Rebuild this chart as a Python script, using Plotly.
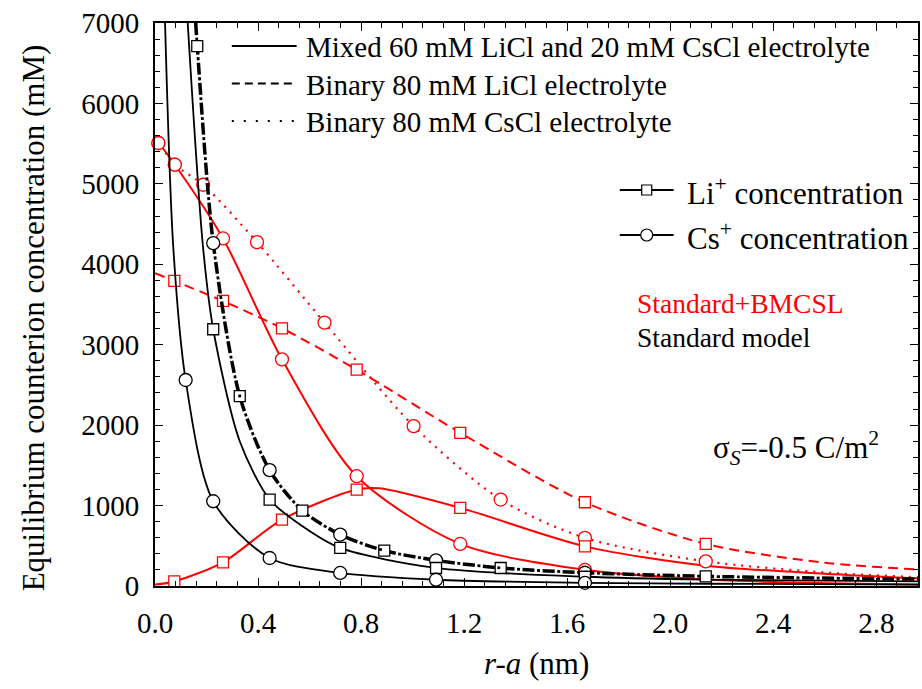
import plotly.graph_objects as go

# ---------------- data ----------------
# Standard model (black): mixed 60 mM LiCl + 20 mM CsCl
std_mix_li_x = [0.127, 0.186, 0.226, 0.329, 0.445, 0.574, 0.719, 1.091, 1.669, 2.138, 2.962]
std_mix_li_y = [7000, 4229, 3192, 1800, 1075, 740, 473, 224, 115, 80, 58]
std_mix_li_mk = [0.226, 0.445, 0.719, 1.091, 1.669]

std_mix_cs_x = [0.039, 0.071, 0.119, 0.226, 0.445, 0.719, 1.091, 1.669, 2.138, 2.962]
std_mix_cs_y = [7000, 4209, 2561, 1054, 348, 162, 78, 40, 28, 18]
std_mix_cs_mk = [0.119, 0.226, 0.445, 0.719, 1.091, 1.669]

# Standard model: binary 80 mM LiCl and binary 80 mM CsCl coincide
std_bin_x = [0.158, 0.164, 0.226, 0.329, 0.445, 0.572, 0.719, 0.890, 1.091, 1.342, 1.669, 2.138, 2.962]
std_bin_y = [7000, 6712, 4263, 2361, 1440, 938, 639, 440, 319, 224, 165, 120, 85]
std_bin_li_mk = [0.164, 0.329, 0.572, 0.890, 1.342, 2.138]
std_bin_cs_mk = [0.226, 0.445, 0.719, 1.091, 1.669]

# Standard + BMCSL (red)
bm_mix_li_x = [0.0, 0.075, 0.264, 0.493, 0.783, 0.87, 1.185, 1.669, 2.138, 2.6, 2.962]
bm_mix_li_y = [18, 57, 294, 826, 1199, 1214, 971, 493, 252, 153, 95]
bm_mix_li_mk = [0.075, 0.264, 0.493, 0.783, 1.185, 1.669]

bm_mix_cs_x = [0.0, 0.013, 0.077, 0.264, 0.493, 0.783, 1.185, 1.669, 2.138, 2.6, 2.962]
bm_mix_cs_y = [5530, 5508, 5238, 4321, 2818, 1365, 523, 201, 80, 35, 18]
bm_mix_cs_mk = [0.013, 0.077, 0.264, 0.493, 0.783, 1.185, 1.669]

bm_bin_li_x = [0.0, 0.075, 0.264, 0.493, 0.783, 1.185, 1.669, 2.138, 2.6, 2.962]
bm_bin_li_y = [3890, 3793, 3544, 3204, 2690, 1905, 1041, 523, 290, 205]
bm_bin_li_mk = [0.075, 0.264, 0.493, 0.783, 1.185, 1.669, 2.138]

bm_bin_cs_x = [0.0, 0.013, 0.077, 0.187, 0.396, 0.658, 1.004, 1.342, 1.669, 2.138, 2.6, 2.962]
bm_bin_cs_y = [5530, 5508, 5238, 4989, 4275, 3275, 1988, 1075, 598, 306, 168, 110]
bm_bin_cs_mk = [0.013, 0.077, 0.187, 0.396, 0.658, 1.004, 1.342, 1.669, 2.138]

x_ticks = [0.0, 0.4, 0.8, 1.2, 1.6, 2.0, 2.4, 2.8]
y_ticks = [0, 1000, 2000, 3000, 4000, 5000, 6000, 7000]

legend_lines = ["Mixed 60 mM LiCl and 20 mM CsCl electrolyte",
                "Binary 80 mM LiCl electrolyte",
                "Binary 80 mM CsCl electrolyte"]

# ---------------- styling ----------------
FONT = "Liberation Serif, Times New Roman, serif"
RED = "#ff0000"
BLACK = "#000000"
W, H = 922, 689
ML, MR, MT, MB = 155, 2, 23, 103
PW, PH = W - ML - MR, H - MT - MB

def px(xp):  # pixel -> paper (x)
    return (xp - ML) / PW

def py(yp):  # pixel -> paper (y)
    return (H - MB - yp) / PH

fig = go.Figure()

def curve(xs, ys, color, width, dash):
    fig.add_trace(go.Scatter(x=xs, y=ys, mode="lines", showlegend=False,
                             line=dict(color=color, width=width, dash=dash,
                                       shape="spline", smoothing=0.8),
                             hoverinfo="skip"))

def marks(xs, ys, mk, color, symbol, size):
    lut = dict(zip(xs, ys))
    fig.add_trace(go.Scatter(x=mk, y=[lut[v] for v in mk], mode="markers",
                             showlegend=False, cliponaxis=False,
                             marker=dict(symbol=symbol, size=size, color="white",
                                         line=dict(color=color, width=1.3)),
                             hoverinfo="skip"))

SQ, CI = 11, 13
# red (Standard + BMCSL)
curve(bm_bin_li_x, bm_bin_li_y, RED, 2, "10px,6px")
curve(bm_bin_cs_x, bm_bin_cs_y, RED, 2.2, "2px,6px")
curve(bm_mix_li_x, bm_mix_li_y, RED, 2, "solid")
curve(bm_mix_cs_x, bm_mix_cs_y, RED, 2, "solid")
marks(bm_bin_li_x, bm_bin_li_y, bm_bin_li_mk, RED, "square", SQ)
marks(bm_bin_cs_x, bm_bin_cs_y, bm_bin_cs_mk, RED, "circle", CI)
marks(bm_mix_li_x, bm_mix_li_y, bm_mix_li_mk, RED, "square", SQ)
marks(bm_mix_cs_x, bm_mix_cs_y, bm_mix_cs_mk, RED, "circle", CI)

# black (Standard model)
curve(std_mix_li_x, std_mix_li_y, BLACK, 1.8, "solid")
curve(std_mix_cs_x, std_mix_cs_y, BLACK, 1.8, "solid")
curve(std_bin_x, std_bin_y, BLACK, 3.5, "12px,8px")          # binary LiCl (dashed)
marks(std_bin_x, std_bin_y, std_bin_li_mk, BLACK, "square", SQ)
curve(std_bin_x, std_bin_y, BLACK, 2.8, "0px,14.5px,3px,2.5px")  # binary CsCl (dotted)
marks(std_bin_x, std_bin_y, std_bin_cs_mk, BLACK, "circle", CI)
marks(std_mix_li_x, std_mix_li_y, std_mix_li_mk, BLACK, "square", SQ)
marks(std_mix_cs_x, std_mix_cs_y, std_mix_cs_mk, BLACK, "circle", CI)

# ---------------- legend / labels (decorations) ----------------
shapes = []
annotations = []
rows = [46, 83.5, 121]
dashes = ["solid", "8px,5px", "2px,10px"]
for r, d, t in zip(rows, dashes, legend_lines):
    shapes.append(dict(type="line", xref="paper", yref="paper",
                       x0=px(232), x1=px(297), y0=py(r), y1=py(r),
                       line=dict(color=BLACK, width=2, dash=d)))
    annotations.append(dict(text=t, xref="paper", yref="paper", x=px(304), y=py(r + 1),
                            xanchor="left", yanchor="middle", showarrow=False,
                            font=dict(family=FONT, size=29, color=BLACK)))

for r, sym, t in [(190, "rect", "Li<sup>+</sup> concentration"),
                  (235, "circle", "Cs<sup>+</sup> concentration")]:
    shapes.append(dict(type="line", xref="paper", yref="paper",
                       x0=px(621), x1=px(675), y0=py(r), y1=py(r),
                       line=dict(color=BLACK, width=2.2)))
    s = 5 if sym == "rect" else 6
    shapes.append(dict(type=sym, xref="paper", yref="paper",
                       xsizemode="pixel", ysizemode="pixel",
                       xanchor=px(648), yanchor=py(r), x0=-s, x1=s, y0=-s, y1=s,
                       fillcolor="white", line=dict(color=BLACK, width=1.2)))
    annotations.append(dict(text=t, xref="paper", yref="paper", x=px(686), y=py(r + 1),
                            xanchor="left", yanchor="middle", showarrow=False,
                            font=dict(family=FONT, size=31, color=BLACK)))

annotations.append(dict(text="Standard+BMCSL", xref="paper", yref="paper", x=px(636), y=py(303),
                        xanchor="left", yanchor="middle", showarrow=False,
                        font=dict(family=FONT, size=27.5, color=RED)))
annotations.append(dict(text="Standard model", xref="paper", yref="paper", x=px(636), y=py(337),
                        xanchor="left", yanchor="middle", showarrow=False,
                        font=dict(family=FONT, size=27.5, color=BLACK)))
annotations.append(dict(text="σ<sub><i>S</i></sub>=-0.5 C/m<sup>2</sup>", xref="paper", yref="paper",
                        x=px(712), y=py(448), xanchor="left", yanchor="middle", showarrow=False,
                        font=dict(family=FONT, size=31, color=BLACK)))
annotations.append(dict(text="<i>r-a</i> (nm)", xref="paper", yref="paper",
                        x=px(537), y=py(664), xanchor="center", yanchor="middle", showarrow=False,
                        font=dict(family=FONT, size=31, color=BLACK)))
annotations.append(dict(text="Equilibrium counterion concentration (mM)", xref="paper", yref="paper",
                        x=px(33), y=py(318), xanchor="center", yanchor="middle", showarrow=False,
                        textangle=-90, font=dict(family=FONT, size=31, color=BLACK)))

axis_common = dict(showline=True, linewidth=2, linecolor=BLACK, mirror="ticks",
                   ticks="inside", ticklen=8, tickwidth=1.2, tickcolor=BLACK,
                   showgrid=False, zeroline=False,
                   tickfont=dict(family=FONT, size=29, color=BLACK))

fig.update_layout(
    width=W, height=H,
    margin=dict(l=ML, r=MR, t=MT, b=MB, pad=0),
    paper_bgcolor="white", plot_bgcolor="white",
    showlegend=False,
    shapes=shapes, annotations=annotations,
    xaxis=dict(range=[0, 2.962], tickvals=x_ticks, ticktext=[f"{v:.1f}" for v in x_ticks],
               minor=dict(ticks="inside", ticklen=5, tickwidth=1, tickcolor=BLACK, dtick=0.08, tick0=0),
               ticklabelstandoff=10, **axis_common),
    yaxis=dict(range=[0, 7000], tickvals=y_ticks, ticktext=[str(v) for v in y_ticks],
               minor=dict(ticks="inside", ticklen=5, tickwidth=1, tickcolor=BLACK, dtick=200, tick0=0),
               ticklabelstandoff=8, **axis_common),
)

fig.write_html("out.html")
